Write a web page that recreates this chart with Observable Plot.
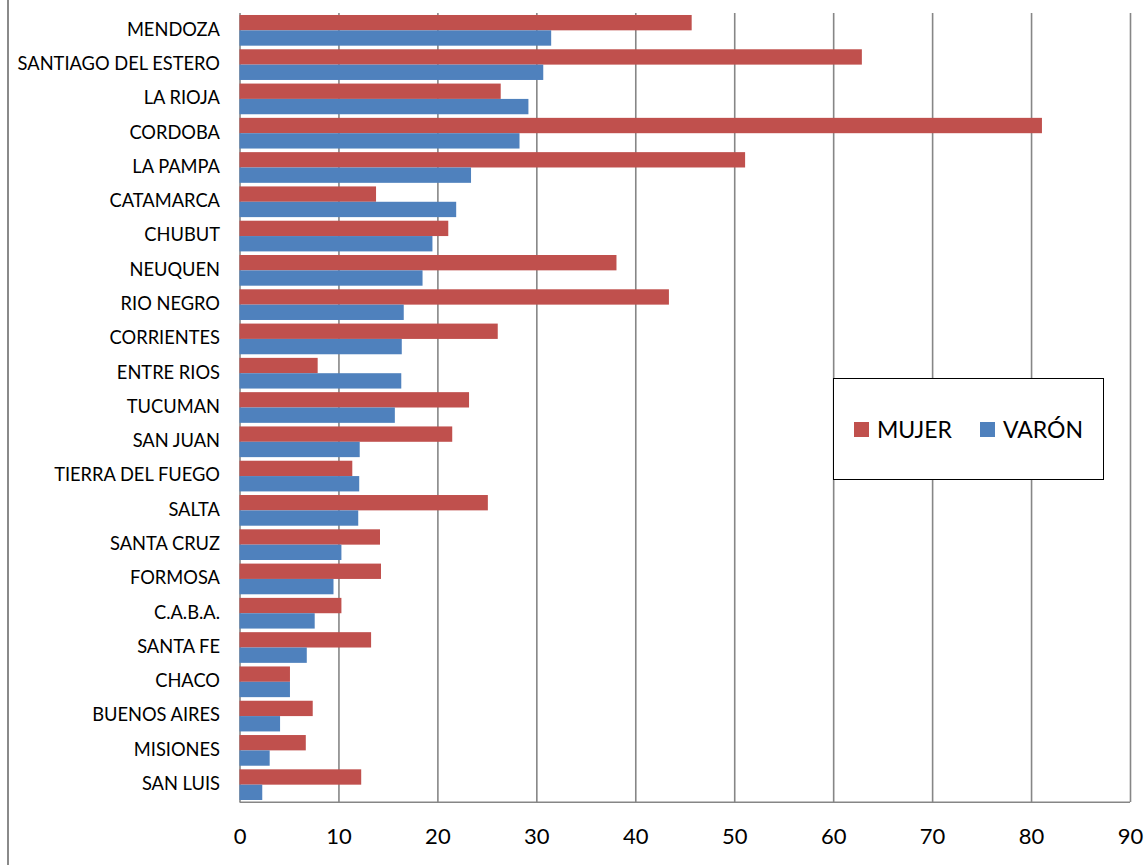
<!DOCTYPE html>
<html>
<head>
<meta charset="utf-8">
<script src="https://cdn.jsdelivr.net/npm/d3@7"></script>
<script src="https://cdn.jsdelivr.net/npm/@observablehq/plot@0.6"></script>
<style>
  html, body { margin: 0; padding: 0; background: #fff; }
  #wrap { position: relative; width: 1147px; height: 865px; overflow: hidden; font-family: Lato, "Open Sans", sans-serif; }
  #chart svg { display: block; }
  #leftline { position: absolute; left: 7px; top: 0; width: 1.5px; height: 865px; background: #8a8a8a; }
  #legend { position: absolute; left: 833px; top: 378px; width: 269px; height: 100px; border: 1.5px solid #000; background: #fff;
            display: flex; align-items: center; justify-content: center; gap: 28px; font-size: 23px; color: #000; }
  .item { display: flex; align-items: center; gap: 8px; }
  .sw { width: 15px; height: 15px; display: inline-block; }
</style>
</head>
<body>
<div id="wrap">
  <div id="chart"></div>
  <div id="leftline"></div>
  <div id="legend"></div>
</div>
<script>
const provinces = ["MENDOZA","SANTIAGO DEL ESTERO","LA RIOJA","CORDOBA","LA PAMPA","CATAMARCA","CHUBUT","NEUQUEN","RIO NEGRO","CORRIENTES","ENTRE RIOS","TUCUMAN","SAN JUAN","TIERRA DEL FUEGO","SALTA","SANTA CRUZ","FORMOSA","C.A.B.A.","SANTA FE","CHACO","BUENOS AIRES","MISIONES","SAN LUIS"];
const mujer = [45.7,62.9,26.4,81.1,51.1,13.8,21.1,38.1,43.4,26.1,7.9,23.2,21.5,11.4,25.1,14.2,14.3,10.3,13.3,5.1,7.4,6.7,12.3];
const varon = [31.5,30.7,29.2,28.3,23.4,21.9,19.5,18.5,16.6,16.4,16.35,15.7,12.15,12.1,12.0,10.3,9.5,7.6,6.8,5.1,4.1,3.05,2.3];
const series = ["MUJER","VARÓN"];
const colors = ["#C0504D","#4F81BD"];
const xTicks = [0,10,20,30,40,50,60,70,80,90];

const rows = provinces.flatMap((p, i) => [
  {province: p, series: "MUJER", value: mujer[i]},
  {province: p, series: "VARÓN", value: varon[i]}
]);

const W = 1147, H = 865, mT = 13, mB = 63, mL = 239.5, mR = 17;
const pIn = 0.105, pOut = 0.058;
const step = (H - mT - mB) / (provinces.length - pIn + 2 * pOut);
const half = step * (1 - pIn) / 2;

const chart = Plot.plot({
  width: W, height: H,
  marginTop: mT, marginBottom: mB, marginLeft: mL, marginRight: mR,
  style: {fontFamily: "Lato, 'Open Sans', sans-serif", background: "#fff", color: "#000"},
  x: {domain: [0, 90], label: null},
  y: {domain: provinces, paddingInner: pIn, paddingOuter: pOut, round: false, label: null},
  color: {domain: series, range: colors},
  marks: [
    Plot.ruleX(xTicks, {stroke: "#868686", strokeWidth: 1.6}),
    Plot.barX(rows.filter(d => d.series === "MUJER"), {x: "value", y: "province", fill: "series", insetBottom: half}),
    Plot.barX(rows.filter(d => d.series === "VARÓN"), {x: "value", y: "province", fill: "series", insetTop: half}),
    Plot.ruleY([provinces[provinces.length - 1]], {x1: 0, x2: 90, dy: step / 2, stroke: "#868686", strokeWidth: 1.6}),
    Plot.axisY({tickSize: 0, tickPadding: 20, fontSize: 18.3, fill: "#000", label: null, dy: -1}),
    Plot.axisX(xTicks, {tickSize: 0, tickPadding: 26, fontSize: 22, fill: "#000", label: null})
  ]
});
document.getElementById("chart").appendChild(chart);

const leg = document.getElementById("legend");
series.forEach((s, i) => {
  const it = document.createElement("div");
  it.className = "item";
  const sw = document.createElement("span");
  sw.className = "sw";
  sw.style.background = colors[i];
  const t = document.createElement("span");
  t.textContent = s;
  it.appendChild(sw); it.appendChild(t);
  leg.appendChild(it);
});
</script>
</body>
</html>
